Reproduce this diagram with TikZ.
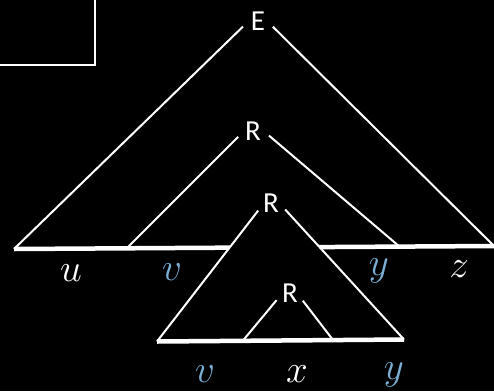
\documentclass[tikz,border=0pt]{standalone}
\usepackage{fontspec}
\usepackage{graphicx}
\newfontfamily\tagfont{Carlito}
\usetikzlibrary{positioning}
\usepackage{xcolor}
\definecolor{ink}{HTML}{000000}
\definecolor{chalk}{HTML}{FFFFFF}
\definecolor{sky}{HTML}{7BAFD4}
\newcommand{\leafmath}[1]{\scalebox{3.25}{\fontsize{12}{14}\selectfont$#1$}}
\tikzset{
  tag/.style={font=\tagfont\fontsize{29}{32}\selectfont,text=chalk,inner sep=0pt},
  leaf/.style={text=chalk,inner sep=0pt,anchor=base},
  bleaf/.style={leaf,text=sky},
  edge/.style={draw=chalk,line width=2pt,shorten <=21pt},
  base/.style={draw=chalk,line width=4.5pt},
  frame/.style={draw=chalk,line width=2.4pt,minimum width=110pt,minimum height=80pt,inner sep=0pt},
  mask/.style={fill=ink}
}

\begin{document}
\begin{tikzpicture}[x=1pt,y=-1pt]
\useasboundingbox[fill=ink] (0,0) rectangle (494,391);
\node[frame,anchor=south east] (panel) at (96,66) {};

\coordinate (eTop) at (258,12);
\coordinate (eL) at (14,249);
\coordinate (eR) at (494,246);
\coordinate (aTop) at (253,122);
\coordinate (aL) at (126,249);
\coordinate (aR) at (400,247);
\coordinate (bTop) at (271,194);
\coordinate (bL) at (157,341.5);
\coordinate (bR) at (404,339.5);
\coordinate (cTop) at (290,284);
\coordinate (cL) at (243,340.5);
\coordinate (cR) at (333,340);

\draw[base] (eL) -- (eR);
\draw[edge] (eTop) -- (eL);
\draw[edge] (eTop) -- (eR);
\draw[edge] (aTop) -- (aL);
\draw[edge] (aTop) -- (aR);
\fill[mask] (bTop) -- (bL) -- (bR) -- cycle;
\draw[base] (bL) -- (bR);
\draw[edge] (bTop) -- (bL);
\draw[edge] (bTop) -- (bR);
\draw[edge] (cTop) -- (cL);
\draw[edge] (cTop) -- (cR);

\node[tag,below=0pt of eTop] (E) {E};
\node[tag,below=0pt of aTop] (rA) {R};
\node[tag,below=0pt of bTop] (rB) {R};
\node[tag,below=0pt of cTop] (rC) {R};

\node[leaf] (u) at (71,281) {\leafmath{u}};
\node[bleaf] (vA) at (172,280) {\leafmath{v}};
\node[bleaf] (yA) at (379,275) {\leafmath{y}};
\node[leaf] (z) at (459,277) {\leafmath{z}};
\node[bleaf] (vB) at (205,382) {\leafmath{v}};
\node[leaf] (x) at (297,382) {\leafmath{x}};
\node[bleaf] (yB) at (394,379) {\leafmath{y}};
\end{tikzpicture}
\end{document}
